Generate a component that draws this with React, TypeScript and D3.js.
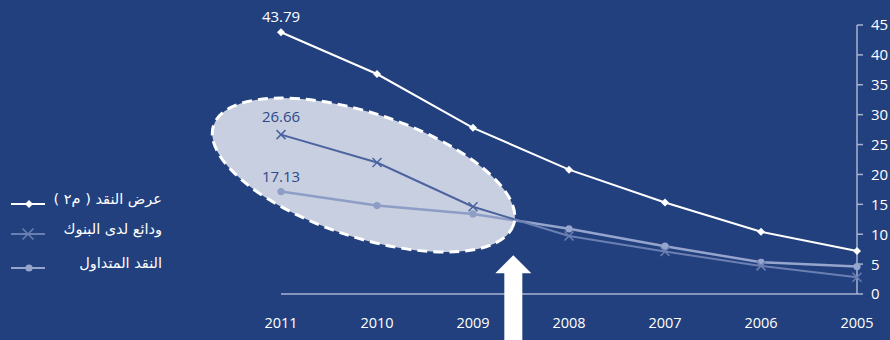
import React from 'react';
import * as d3 from 'd3';

const years = [2011, 2010, 2009, 2008, 2007, 2006, 2005];
const moneySupply = [43.79, 36.8, 27.8, 20.8, 15.3, 10.4, 7.2];
const deposits = [26.66, 22.0, 14.6, 9.7, 7.1, 4.7, 2.8];
const currency = [17.13, 14.8, 13.4, 10.9, 8.0, 5.3, 4.6];
const yTicks = [0, 5, 10, 15, 20, 25, 30, 35, 40, 45];
const seriesNames = ['عرض النقد ( م٢ )', 'ودائع لدى البنوك', 'النقد المتداول'];
const labelIndex = 0;

const W = 890;
const H = 340;
const BG = '#22407e';
const AXIS = '#a7b3d3';
const C_M2 = '#ffffff';
const C_DEP = '#6c7fb3';
const C_CUR = '#95a5cd';
const C_DEP_IN = '#4b64a0';
const C_CUR_IN = '#8d9dc6';
const LABEL_IN = '#2e4a8a';
const FONT = '"Open Sans", "DejaVu Sans", sans-serif';
const AR_FONT = '"DejaVu Sans", sans-serif';

// annotation placement in data units
const ellipseCenter = { year: 2010.14, value: 19.9 };
const ellipseAxes = { rx: 158, ry: 62, angle: 18.3 };
const arrowAt = { year: 2008.58, value: 6.5 };

const RLM = '\u200F';

export default function App() {
  const x = d3.scaleLinear().domain([2011, 2005]).range([281, 857]);
  const y = d3.scaleLinear().domain([0, 45]).range([294, 25]);

  const line = d3
    .line<[number, number]>()
    .x((d) => x(d[0]))
    .y((d) => y(d[1]));

  const pts = (vals: number[]) => years.map((yr, i) => [yr, vals[i]] as [number, number]);
  const m2 = pts(moneySupply);
  const dep = pts(deposits);
  const cur = pts(currency);

  const diamond = (s: number) => `M0,${-s}L${s},0L0,${s}L${-s},0Z`;
  const cross = (s: number) => `M${-s},${-s}L${s},${s}M${-s},${s}L${s},${-s}`;

  const ecx = x(ellipseCenter.year);
  const ecy = y(ellipseCenter.value);
  const eTransform = `rotate(${ellipseAxes.angle} ${ecx} ${ecy})`;

  const ax = x(arrowAt.year);
  const at = y(arrowAt.value);
  const arrowPts = [
    [ax, at],
    [ax + 18, at + 18],
    [ax + 9, at + 18],
    [ax + 9, H],
    [ax - 9, H],
    [ax - 9, at + 18],
    [ax - 18, at + 18],
  ]
    .map((p) => p.join(','))
    .join(' ');

  const axisX = x(2005);
  const y0 = y(0);

  const depSeries = (color: string) => (
    <g>
      <path d={line(dep) || ''} fill="none" stroke={color} strokeWidth={2} />
      {dep.map((d, i) => (
        <path
          key={i}
          d={cross(4.5)}
          transform={`translate(${x(d[0])},${y(d[1])})`}
          stroke={color}
          strokeWidth={1.5}
          fill="none"
        />
      ))}
    </g>
  );
  const curSeries = (color: string) => (
    <g>
      <path d={line(cur) || ''} fill="none" stroke={color} strokeWidth={2.5} />
      {cur.map((d, i) => (
        <circle key={i} cx={x(d[0])} cy={y(d[1])} r={3.6} fill={color} />
      ))}
    </g>
  );

  const legendRows = [
    { y: 204, color: C_M2, kind: 'diamond' },
    { y: 234, color: C_DEP, kind: 'cross' },
    { y: 268, color: C_CUR, kind: 'dot' },
  ];

  return (
    <svg
      width={W}
      height={H}
      style={{ position: 'absolute', left: 0, top: 0, background: BG }}
    >
      <rect x={0} y={0} width={W} height={H} fill={BG} />
      <defs>
        <clipPath id="ellClip">
          <ellipse cx={ecx} cy={ecy} rx={ellipseAxes.rx} ry={ellipseAxes.ry} transform={eTransform} />
        </clipPath>
      </defs>

      {/* right axis */}
      <line x1={axisX} x2={axisX} y1={y(45)} y2={y0} stroke={AXIS} strokeWidth={1.5} />
      {yTicks.map((t) => (
        <g key={t}>
          <line x1={axisX} x2={axisX + 6} y1={y(t)} y2={y(t)} stroke={AXIS} strokeWidth={1.5} />
          <text
            x={axisX + 14}
            y={y(t)}
            dy="0.36em"
            fill="#ffffff"
            fontFamily={FONT}
            fontSize={15}
          >
            {t}
          </text>
        </g>
      ))}
      {/* baseline */}
      <line x1={x(2011)} x2={axisX} y1={y0} y2={y0} stroke={AXIS} strokeWidth={1.5} />
      {years.map((yr) => (
        <text
          key={yr}
          x={x(yr)}
          y={328}
          textAnchor="middle"
          fill="#ffffff"
          fontFamily={FONT}
          fontSize={14.5}
        >
          {yr}
        </text>
      ))}

      {/* series outside */}
      {curSeries(C_CUR)}
      {depSeries(C_DEP)}

      {/* ellipse */}
      <ellipse
        cx={ecx}
        cy={ecy}
        rx={ellipseAxes.rx}
        ry={ellipseAxes.ry}
        transform={eTransform}
        fill="#c8cfe0"
      />
      <g clipPath="url(#ellClip)">
        {curSeries(C_CUR_IN)}
        {depSeries(C_DEP_IN)}
      </g>
      <ellipse
        cx={ecx}
        cy={ecy}
        rx={ellipseAxes.rx}
        ry={ellipseAxes.ry}
        transform={eTransform}
        fill="none"
        stroke="#ffffff"
        strokeWidth={3}
        strokeDasharray="10 6"
      />

      {/* M2 series */}
      <path d={line(m2) || ''} fill="none" stroke={C_M2} strokeWidth={2} />
      {m2.map((d, i) => (
        <path key={i} d={diamond(4)} transform={`translate(${x(d[0])},${y(d[1])})`} fill={C_M2} />
      ))}

      {/* value labels */}
      <text
        x={x(years[labelIndex])}
        y={y(moneySupply[labelIndex]) - 10}
        textAnchor="middle"
        fill="#ffffff"
        fontFamily={FONT}
        fontSize={15}
      >
        {moneySupply[labelIndex].toFixed(2)}
      </text>
      <text
        x={x(years[labelIndex])}
        y={y(deposits[labelIndex]) - 12.5}
        textAnchor="middle"
        fill={LABEL_IN}
        fontFamily={FONT}
        fontSize={15}
      >
        {deposits[labelIndex].toFixed(2)}
      </text>
      <text
        x={x(years[labelIndex])}
        y={y(currency[labelIndex]) - 9.5}
        textAnchor="middle"
        fill={LABEL_IN}
        fontFamily={FONT}
        fontSize={15}
      >
        {currency[labelIndex].toFixed(2)}
      </text>

      {/* arrow */}
      <polygon points={arrowPts} fill="#ffffff" />

      {/* legend */}
      {legendRows.map((r, i) => (
        <g key={i}>
          <line x1={11} x2={45} y1={r.y} y2={r.y} stroke={r.color} strokeWidth={2} />
          {r.kind === 'diamond' && (
            <path d={diamond(4)} transform={`translate(29,${r.y})`} fill={r.color} />
          )}
          {r.kind === 'cross' && (
            <path d={cross(5.5)} transform={`translate(28,${r.y})`} stroke={r.color} strokeWidth={1.5} fill="none" />
          )}
          {r.kind === 'dot' && <circle cx={29} cy={r.y} r={3.6} fill={r.color} />}
          <text
            x={162}
            y={r.y}
            textAnchor="end"
            fill="#ffffff"
            fontFamily={AR_FONT}
            fontSize={14.5}
          >
            {RLM + seriesNames[i] + RLM}
          </text>
        </g>
      ))}
    </svg>
  );
}
